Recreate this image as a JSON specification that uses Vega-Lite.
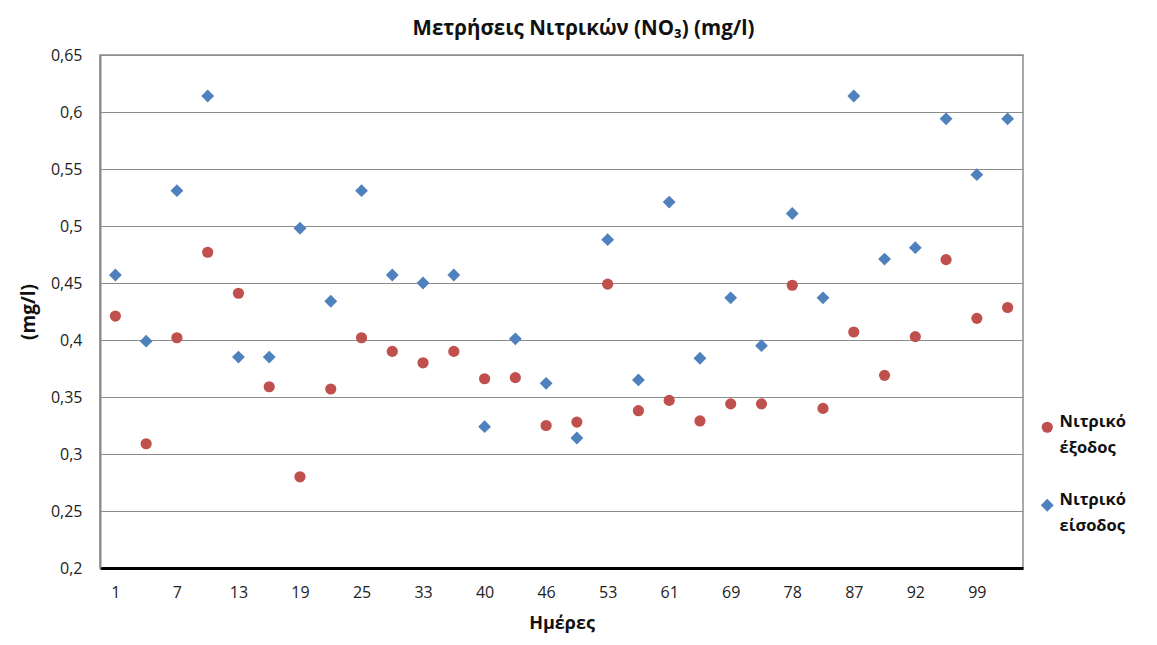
{
  "$schema": "https://vega.github.io/schema/vega-lite/v6.json",
  "autosize": "none",
  "width": 923,
  "height": 513,
  "padding": {"left": 100, "top": 55, "right": 134, "bottom": 77},
  "background": "white",
  "title": {
    "text": "Μετρήσεις Νιτρικών (NO₃) (mg/l)",
    "font": "Open Sans",
    "fontSize": 20.5,
    "fontWeight": "bold",
    "color": "#111111",
    "anchor": "middle",
    "offset": 8,
    "dx": 22
  },
  "data": {
    "values": [
      {"day": "1", "Νιτρικό έξοδος": 0.421, "Νιτρικό είσοδος": 0.457},
      {"day": "4", "Νιτρικό έξοδος": 0.309, "Νιτρικό είσοδος": 0.399},
      {"day": "7", "Νιτρικό έξοδος": 0.402, "Νιτρικό είσοδος": 0.531},
      {"day": "10", "Νιτρικό έξοδος": 0.477, "Νιτρικό είσοδος": 0.614},
      {"day": "13", "Νιτρικό έξοδος": 0.441, "Νιτρικό είσοδος": 0.385},
      {"day": "16", "Νιτρικό έξοδος": 0.359, "Νιτρικό είσοδος": 0.385},
      {"day": "19", "Νιτρικό έξοδος": 0.280, "Νιτρικό είσοδος": 0.498},
      {"day": "22", "Νιτρικό έξοδος": 0.357, "Νιτρικό είσοδος": 0.434},
      {"day": "25", "Νιτρικό έξοδος": 0.402, "Νιτρικό είσοδος": 0.531},
      {"day": "29", "Νιτρικό έξοδος": 0.390, "Νιτρικό είσοδος": 0.457},
      {"day": "33", "Νιτρικό έξοδος": 0.380, "Νιτρικό είσοδος": 0.450},
      {"day": "36", "Νιτρικό έξοδος": 0.390, "Νιτρικό είσοδος": 0.457},
      {"day": "40", "Νιτρικό έξοδος": 0.366, "Νιτρικό είσοδος": 0.324},
      {"day": "43", "Νιτρικό έξοδος": 0.367, "Νιτρικό είσοδος": 0.401},
      {"day": "46", "Νιτρικό έξοδος": 0.325, "Νιτρικό είσοδος": 0.362},
      {"day": "49", "Νιτρικό έξοδος": 0.328, "Νιτρικό είσοδος": 0.314},
      {"day": "53", "Νιτρικό έξοδος": 0.449, "Νιτρικό είσοδος": 0.488},
      {"day": "57", "Νιτρικό έξοδος": 0.338, "Νιτρικό είσοδος": 0.365},
      {"day": "61", "Νιτρικό έξοδος": 0.347, "Νιτρικό είσοδος": 0.521},
      {"day": "65", "Νιτρικό έξοδος": 0.329, "Νιτρικό είσοδος": 0.384},
      {"day": "69", "Νιτρικό έξοδος": 0.344, "Νιτρικό είσοδος": 0.437},
      {"day": "73", "Νιτρικό έξοδος": 0.344, "Νιτρικό είσοδος": 0.395},
      {"day": "78", "Νιτρικό έξοδος": 0.448, "Νιτρικό είσοδος": 0.511},
      {"day": "82", "Νιτρικό έξοδος": 0.340, "Νιτρικό είσοδος": 0.437},
      {"day": "87", "Νιτρικό έξοδος": 0.407, "Νιτρικό είσοδος": 0.614},
      {"day": "89", "Νιτρικό έξοδος": 0.369, "Νιτρικό είσοδος": 0.471},
      {"day": "92", "Νιτρικό έξοδος": 0.403, "Νιτρικό είσοδος": 0.481},
      {"day": "95", "Νιτρικό έξοδος": 0.4705, "Νιτρικό είσοδος": 0.594},
      {"day": "99", "Νιτρικό έξοδος": 0.419, "Νιτρικό είσοδος": 0.545},
      {"day": "103", "Νιτρικό έξοδος": 0.4285, "Νιτρικό είσοδος": 0.594}
    ]
  },
  "transform": [
    {"fold": ["Νιτρικό έξοδος", "Νιτρικό είσοδος"], "as": ["series", "value"]}
  ],
  "mark": {"type": "point", "filled": true, "opacity": 1},
  "encoding": {
    "x": {
      "field": "day",
      "type": "ordinal",
      "sort": null,
      "title": "Ημέρες",
      "axis": {
        "values": ["1", "7", "13", "19", "25", "33", "40", "46", "53", "61", "69", "78", "87", "92", "99"],
        "labelAngle": 0,
        "ticks": false,
        "labelPadding": 16,
        "labelFont": "Open Sans",
        "labelFontSize": 16,
        "labelColor": "#222222",
        "titleFont": "Open Sans",
        "titleFontSize": 18,
        "titleFontWeight": "bold",
        "titleColor": "#111111",
        "titlePadding": 14,
        "domainColor": "#000000",
        "domainWidth": 3,
        "grid": false
      }
    },
    "y": {
      "field": "value",
      "type": "quantitative",
      "title": "(mg/l)",
      "scale": {"domain": [0.2, 0.65], "nice": false, "zero": false},
      "axis": {
        "values": [0.2, 0.25, 0.3, 0.35, 0.4, 0.45, 0.5, 0.55, 0.6, 0.65],
        "labelExpr": "replace(format(datum.value, '.2~f'), '.', ',')",
        "ticks": false,
        "labelPadding": 18,
        "labelFont": "Open Sans",
        "labelFontSize": 16,
        "labelColor": "#222222",
        "titleFont": "Open Sans",
        "titleFontSize": 19,
        "titleFontWeight": "bold",
        "titleColor": "#111111",
        "titlePadding": 12,
        "domainColor": "#8a8a8a",
        "domainWidth": 2,
        "grid": true,
        "gridColor": "#8c8c8c",
        "gridWidth": 1
      }
    },
    "color": {
      "field": "series",
      "type": "nominal",
      "scale": {"domain": ["Νιτρικό έξοδος", "Νιτρικό είσοδος"], "range": ["#C0504D", "#4F81BD"]},
      "legend": {
        "title": null,
        "orient": "none",
        "legendX": 939,
        "legendY": 364,
        "padding": 0,
        "labelExpr": "split(datum.label, ' ')",
        "labelFont": "Open Sans",
        "labelFontSize": 16.5,
        "labelColor": "#111111",
        "labelFontWeight": "bold",
        "labelBaseline": "alphabetic",
        "labelLimit": 200,
        "rowPadding": 35,
        "symbolSize": 90
      }
    },
    "shape": {
      "field": "series",
      "type": "nominal",
      "scale": {"domain": ["Νιτρικό έξοδος", "Νιτρικό είσοδος"], "range": ["circle", "diamond"]},
      "legend": null
    },
    "size": {
      "field": "series",
      "type": "nominal",
      "scale": {"type": "ordinal", "domain": ["Νιτρικό έξοδος", "Νιτρικό είσοδος"], "range": [125, 165]},
      "legend": null
    }
  },
  "config": {
    "view": {"stroke": "#8c8c8c", "strokeWidth": 1.5},
    "font": "Open Sans",
    "style": {"guide-label": {"lineHeight": 26}}
  }
}
